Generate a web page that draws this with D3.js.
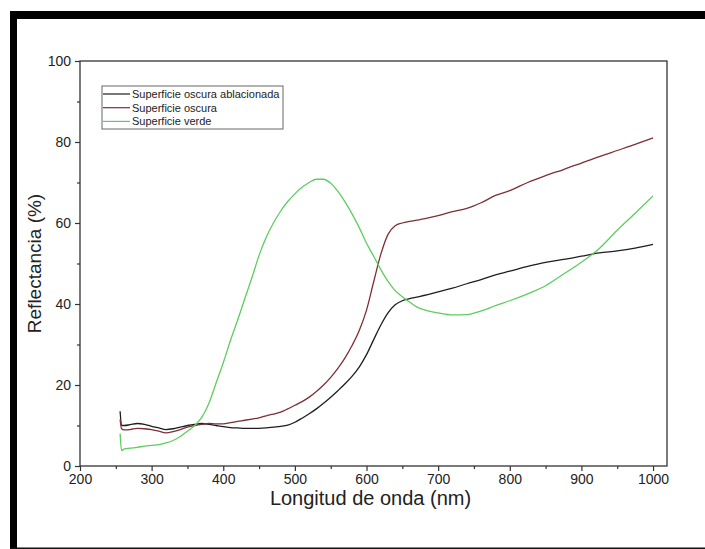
<!DOCTYPE html>
<html>
<head>
<meta charset="utf-8">
<script src="https://cdnjs.cloudflare.com/ajax/libs/d3/7.8.5/d3.min.js"></script>
<style>
  html, body { margin: 0; padding: 0; background: #fff; }
  svg { display: block; }
  text { font-family: "Liberation Sans", Arial, sans-serif; fill: #222; }
</style>
</head>
<body>
<svg id="chart" width="705" height="549"></svg>
<script>
// Wavelength grid (nm) shared by all spectra
const wavelength = [256, 258, 262, 270, 280, 290, 300, 310, 320, 330, 340, 350, 360, 370, 380, 390,
  400, 410, 420, 430, 440, 450, 460, 470, 480, 490, 500, 510, 520, 530, 540, 550, 560, 570, 580, 590,
  600, 610, 620, 630, 640, 650, 660, 670, 680, 700, 720, 740, 760, 780, 800, 825, 850, 875, 900, 925,
  950, 975, 1000];

// Reflectance (%) of each surface
const oscuraAblacionada = [13.5, 10.0, 10.0, 10.2, 10.5, 10.3, 9.8, 9.4, 9.0, 9.2, 9.6, 10.0, 10.3, 10.5, 10.3, 10.0,
  9.7, 9.5, 9.4, 9.3, 9.3, 9.3, 9.4, 9.6, 9.8, 10.1, 10.8, 11.8, 12.9, 14.1, 15.5, 17.0, 18.6, 20.3, 22.2, 24.5,
  27.5, 31.2, 34.8, 37.8, 39.8, 40.8, 41.3, 41.7, 42.1, 43.0, 43.9, 45.0, 46.0, 47.2, 48.1, 49.3, 50.3, 51.0, 51.8, 52.6,
  53.1, 53.8, 54.7];
const oscura = [11.5, 9.2, 8.9, 9.0, 9.3, 9.2, 9.0, 8.6, 8.2, 8.5, 9.0, 9.6, 10.0, 10.3, 10.5, 10.4,
  10.4, 10.7, 11.0, 11.3, 11.6, 11.9, 12.4, 12.8, 13.3, 14.1, 15.0, 15.9, 17.0, 18.4, 20.0, 21.9, 24.1, 26.7, 29.8, 33.5,
  38.5, 45.5, 52.3, 57.2, 59.3, 60.0, 60.4, 60.7, 61.0, 61.8, 62.8, 63.6, 65.0, 66.8, 68.0, 70.0, 71.7, 73.2, 74.8, 76.4,
  77.9, 79.4, 81.0];
const verde = [8.0, 3.8, 4.2, 4.4, 4.6, 4.9, 5.1, 5.3, 5.7, 6.3, 7.3, 8.6, 10.0, 12.0, 15.5, 20.5,
  25.5, 31.0, 36.0, 41.3, 46.5, 52.0, 56.5, 60.0, 62.9, 65.3, 67.2, 68.8, 70.0, 70.8, 70.8, 69.8, 67.8, 65.2, 62.2, 58.8,
  55.0, 51.8, 48.5, 45.6, 43.3, 41.8, 40.5, 39.3, 38.6, 37.8, 37.3, 37.4, 38.3, 39.6, 40.8, 42.5, 44.5, 47.4, 50.3, 53.7,
  58.2, 62.4, 66.7];

const seriesNames = ["Superficie oscura ablacionada", "Superficie oscura", "Superficie verde"];
const seriesColors = ["#1e1e1e", "#7c2f36", "#5fcc5f"];
const seriesValues = [oscuraAblacionada, oscura, verde];

const xTicks = [200, 300, 400, 500, 600, 700, 800, 900, 1000];
const xMinorTicks = [250, 350, 450, 550, 650, 750, 850, 950];
const yTicks = [0, 20, 40, 60, 80, 100];
const yMinorTicks = [10, 30, 50, 70, 90];

const svg = d3.select("#chart");

// Dark border around the figure
svg.append("rect").attr("x", 10).attr("y", 11).attr("width", 695).attr("height", 8).attr("fill", "#000");
svg.append("rect").attr("x", 10).attr("y", 11).attr("width", 7).attr("height", 538).attr("fill", "#000");
svg.append("rect").attr("x", 10).attr("y", 547.5).attr("width", 695).attr("height", 1.5).attr("fill", "#111");

const plot = { left: 80, top: 61, right: 667, bottom: 466 };

const x = d3.scaleLinear().domain([200, 1019.5]).range([plot.left, plot.right]);
const y = d3.scaleLinear().domain([0, 100]).range([plot.bottom, plot.top]);

// Frame of the plotting area
svg.append("rect")
  .attr("x", plot.left).attr("y", plot.top)
  .attr("width", plot.right - plot.left).attr("height", plot.bottom - plot.top)
  .attr("fill", "none").attr("stroke", "#333").attr("stroke-width", 1.3);

function styleAxis(g) {
  g.selectAll(".domain").remove();
  g.selectAll("line").attr("stroke", "#333").attr("stroke-width", 1.2);
  g.selectAll("text").attr("font-size", 14).attr("fill", "#222");
}

// Bottom axis: major ticks with labels, minor ticks without
const gx = svg.append("g").attr("transform", `translate(0,${plot.bottom})`)
  .call(d3.axisBottom(x).tickValues(xTicks).tickSize(5).tickPadding(3).tickFormat(d3.format("d")));
const gxm = svg.append("g").attr("transform", `translate(0,${plot.bottom})`)
  .call(d3.axisBottom(x).tickValues(xMinorTicks).tickSize(3).tickFormat(""));
styleAxis(gx); styleAxis(gxm);

// Left axis
const gy = svg.append("g").attr("transform", `translate(${plot.left},0)`)
  .call(d3.axisLeft(y).tickValues(yTicks).tickSize(5).tickPadding(4).tickFormat(d3.format("d")));
const gym = svg.append("g").attr("transform", `translate(${plot.left},0)`)
  .call(d3.axisLeft(y).tickValues(yMinorTicks).tickSize(3).tickFormat(""));
styleAxis(gy); styleAxis(gym);

// Axis titles
svg.append("text")
  .attr("x", (plot.left + plot.right) / 2 - 3).attr("y", 505)
  .attr("text-anchor", "middle").attr("font-size", 20)
  .text("Longitud de onda (nm)");
svg.append("text")
  .attr("transform", `translate(41,${(plot.top + plot.bottom) / 2}) rotate(-90)`)
  .attr("text-anchor", "middle").attr("font-size", 19)
  .text("Reflectancia (%)");

// Spectra
const line = d3.line()
  .x((d, i) => x(wavelength[i]))
  .y(d => y(d))
  .curve(d3.curveMonotoneX);

seriesValues.forEach((vals, k) => {
  svg.append("path")
    .datum(vals)
    .attr("d", line)
    .attr("fill", "none")
    .attr("stroke", seriesColors[k])
    .attr("stroke-width", 1.3)
    .attr("stroke-linejoin", "round");
});

// Legend
const legend = svg.append("g").attr("transform", "translate(102,86)");
legend.append("rect")
  .attr("width", 181).attr("height", 43)
  .attr("fill", "#fff").attr("stroke", "#666").attr("stroke-width", 1);
seriesNames.forEach((name, k) => {
  const yy = 8 + k * 13.7;
  legend.append("line")
    .attr("x1", 1).attr("x2", 28).attr("y1", yy).attr("y2", yy)
    .attr("stroke", seriesColors[k]).attr("stroke-width", 1.2);
  legend.append("text")
    .attr("x", 30).attr("y", yy + 4)
    .attr("font-size", 11)
    .text(name);
});
</script>
</body>
</html>
